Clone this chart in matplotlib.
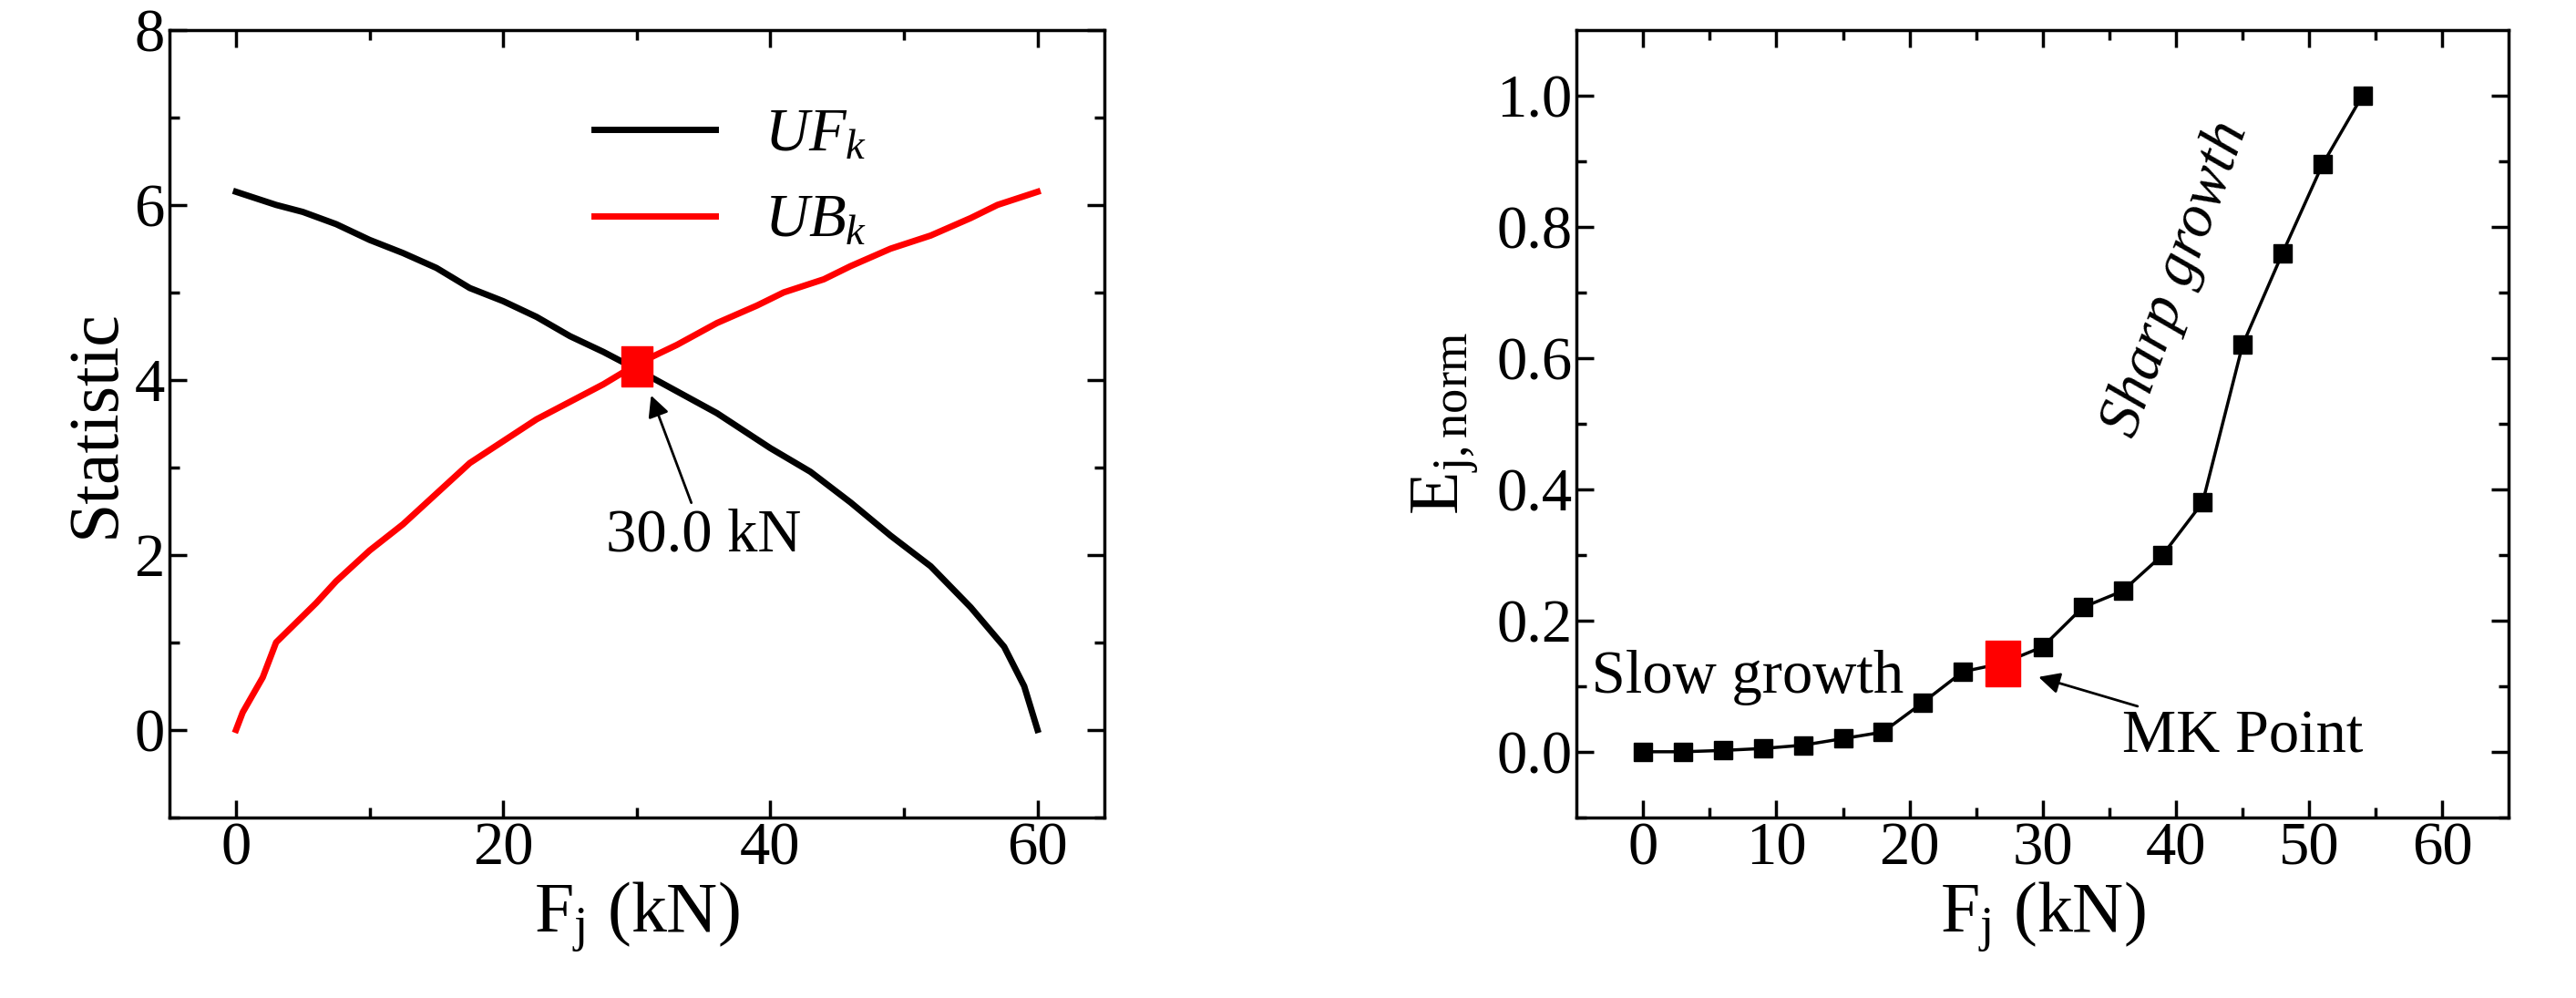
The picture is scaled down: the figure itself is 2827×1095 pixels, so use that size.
import matplotlib
matplotlib.use("Agg")
import matplotlib.pyplot as plt

plt.rcParams['font.family'] = ['Liberation Serif', 'DejaVu Serif']
plt.rcParams['mathtext.fontset'] = 'custom'
plt.rcParams['mathtext.it'] = 'Liberation Serif:italic'
plt.rcParams['mathtext.rm'] = 'Liberation Serif'

uf_x = [0, 3, 5, 7.5, 10, 12.5, 15, 17.5, 20, 22.5, 25, 27.5, 30, 33, 36, 40, 43, 46, 49, 52, 55, 57.5, 59, 60]
uf_y = [6.15, 6.0, 5.92, 5.78, 5.6, 5.45, 5.28, 5.05, 4.9, 4.72, 4.5, 4.32, 4.12, 3.87, 3.62, 3.22, 2.95, 2.6, 2.22, 1.87, 1.4, 0.95, 0.5, 0.0]
ub_x = [0, 0.5, 2, 3, 5, 6, 7.5, 10, 12.5, 15, 17.5, 20, 22.5, 25, 27.5, 30, 33, 36, 39, 41, 44, 46, 49, 52, 55, 57, 60]
ub_y = [0, 0.2, 0.6, 1.0, 1.3, 1.45, 1.7, 2.05, 2.35, 2.7, 3.05, 3.3, 3.55, 3.75, 3.95, 4.18, 4.4, 4.65, 4.85, 5.0, 5.15, 5.3, 5.5, 5.65, 5.85, 6.0, 6.15]
cross_x, cross_y = 30.0, 4.15

e_x = [0, 3, 6, 9, 12, 15, 18, 21, 24, 27, 30, 33, 36, 39, 42, 45, 48, 51, 54]
e_y = [0.0, 0.0, 0.002, 0.005, 0.01, 0.02, 0.03, 0.075, 0.122, 0.135, 0.16, 0.22, 0.245, 0.3, 0.38, 0.62, 0.76, 0.895, 1.0]
mk_x, mk_y = 27, 0.135

FS = 48
LFS = 56
fig = plt.figure(figsize=(28.27, 10.95), dpi=100)
ax1 = fig.add_axes([0.0657, 0.181, 0.363, 0.789])
ax2 = fig.add_axes([0.612, 0.181, 0.362, 0.789])

rect = [(-0.75, -1), (0.75, -1), (0.75, 1), (-0.75, 1), (-0.75, -1)]

ax1.plot(uf_x, uf_y, color='black', lw=5, label=r'$UF_k$')
ax1.plot(ub_x, ub_y, color='red', lw=5, label=r'$UB_k$')
ax1.plot([cross_x], [cross_y], marker=rect, color='red', ms=32, ls='none')
ax1.annotate('30.0 kN', xy=(31, 3.85), xytext=(35, 2.05), fontsize=FS, ha='center',
             arrowprops=dict(arrowstyle='-|>', color='black', lw=2, mutation_scale=35))
ax1.set_xlim(-5, 65); ax1.set_ylim(-1, 8)
ax1.set_xticks([0, 20, 40, 60]); ax1.set_yticks([0, 2, 4, 6, 8])
ax1.set_xticks([10, 30, 50], minor=True); ax1.set_yticks([-1, 1, 3, 5, 7], minor=True)
ax1.set_xlabel(r'F$_\mathregular{j}$ (kN)', fontsize=LFS, labelpad=2)
ax1.set_ylabel('Statistic', fontsize=LFS)
leg = ax1.legend(loc='upper center', bbox_to_anchor=(0.6, 0.97), frameon=False, fontsize=FS,
                 handlelength=2.0, labelspacing=0.5)

ax2.plot(e_x, e_y, color='black', lw=2.5, marker='s', ms=14)
ax2.plot([mk_x], [mk_y], marker=rect, color='red', ms=36, ls='none')
ax2.text(-5, 0.07, ' Slow growth', fontsize=FS, ha='left', va='bottom')
ax2.text(40, 0.72, 'Sharp growth', fontsize=FS, style='italic', rotation=70, ha='center', va='center')
ax2.annotate('MK Point', xy=(29.5, 0.115), xytext=(45, 0.022), fontsize=FS, ha='center', va='center',
             arrowprops=dict(arrowstyle='-|>', color='black', lw=2, mutation_scale=35))
ax2.set_xlim(-5, 65); ax2.set_ylim(-0.1, 1.1)
ax2.set_xticks(range(0, 61, 10)); ax2.set_yticks([0, 0.2, 0.4, 0.6, 0.8, 1.0])
ax2.set_xticks([5, 15, 25, 35, 45, 55], minor=True)
ax2.set_yticks([-0.1, 0.1, 0.3, 0.5, 0.7, 0.9], minor=True)
ax2.set_yticklabels(['0.0', '0.2', '0.4', '0.6', '0.8', '1.0'])
ax2.set_xlabel(r'F$_\mathregular{j}$ (kN)', fontsize=LFS, labelpad=2)
ax2.set_ylabel(r'E$_\mathregular{j,norm}$', fontsize=LFS, labelpad=12)

for ax in (ax1, ax2):
    for s in ax.spines.values():
        s.set_linewidth(2.5)
    ax.tick_params(which='both', direction='in', top=True, right=True, labelsize=FS, width=2.5)
    ax.tick_params(which='major', length=14)
    ax.tick_params(which='minor', length=8)

fig.savefig('out.png', dpi=100)
